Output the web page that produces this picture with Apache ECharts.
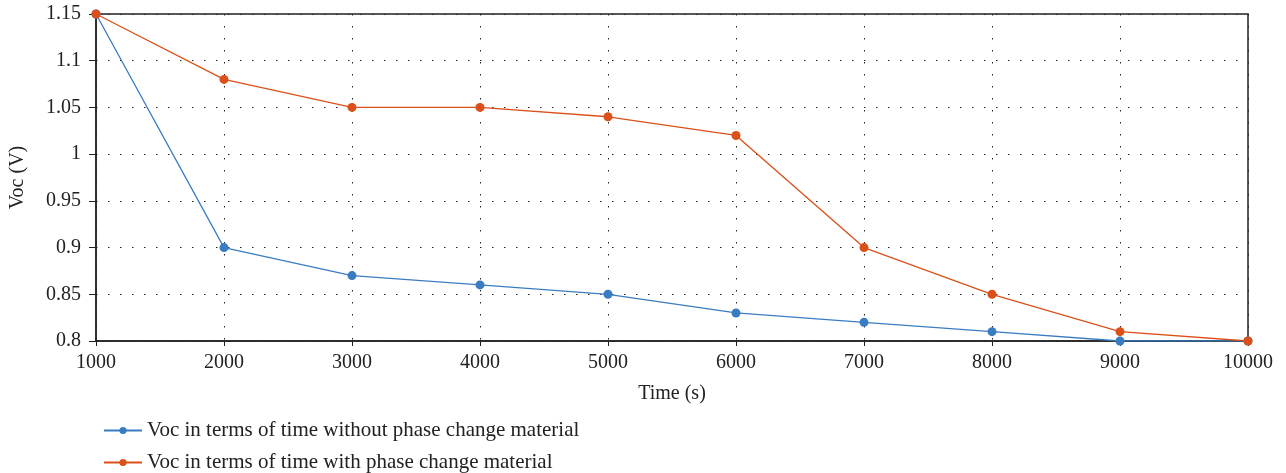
<!DOCTYPE html>
<html><head><meta charset="utf-8">
<script src="https://cdn.jsdelivr.net/npm/echarts@6/dist/echarts.min.js"></script>
<style>html,body{margin:0;padding:0;background:#fff}#c{width:1286px;height:473px}</style>
</head><body><div id="c"></div>
<script>
const times = [1000, 2000, 3000, 4000, 5000, 6000, 7000, 8000, 9000, 10000];
const vocWithout = [1.15, 0.90, 0.87, 0.86, 0.85, 0.83, 0.82, 0.81, 0.80, 0.80];
const vocWith = [1.15, 1.08, 1.05, 1.05, 1.04, 1.02, 0.90, 0.85, 0.81, 0.80];
const nameWithout = 'Voc in terms of time without phase change material';
const nameWith = 'Voc in terms of time with phase change material';
const FONT = '"Liberation Serif", "DejaVu Serif", serif';
const legendText = {fontFamily: FONT, fontSize: 21, color: '#222'};
const chart = echarts.init(document.getElementById('c'));
chart.setOption({
  animation: false,
  textStyle: {fontFamily: FONT},
  grid: {left: 92, right: 38, top: 14, bottom: 132, show: true, borderColor: '#222', borderWidth: 1.5},
  legend: [
    {left: 98, top: 415, itemWidth: 38, itemHeight: 9, itemGap: 5, textStyle: legendText, data: [nameWithout]},
    {left: 98, top: 447, itemWidth: 38, itemHeight: 9, itemGap: 5, textStyle: legendText, data: [nameWith]}
  ],
  xAxis: {
    type: 'value', min: 1000, max: 10000, interval: 1000,
    name: 'Time (s)', nameLocation: 'middle', nameGap: 43,
    nameTextStyle: {fontFamily: FONT, fontSize: 20, color: '#222'},
    axisLine: {onZero: false, lineStyle: {color: '#222', width: 1.5}},
    axisTick: {show: true, length: 5, lineStyle: {color: '#222'}},
    axisLabel: {fontFamily: FONT, fontSize: 20, color: '#222', margin: 12, formatter: v => String(v)},
    splitLine: {show: true, lineStyle: {type: [1.5, 10.5], color: '#222', width: 1}}
  },
  yAxis: {
    type: 'value', min: 0.8, max: 1.15, interval: 0.05,
    name: 'Voc (V)', nameLocation: 'middle', nameGap: 68, nameRotate: 90,
    nameTextStyle: {fontFamily: FONT, fontSize: 20, color: '#222'},
    axisLine: {show: true, onZero: false, lineStyle: {color: '#222', width: 1.5}},
    axisTick: {show: true, length: 7, lineStyle: {color: '#222'}},
    axisLabel: {fontFamily: FONT, fontSize: 20, color: '#222', margin: 15,
      formatter: v => String(parseFloat(v.toFixed(2)))},
    splitLine: {show: true, lineStyle: {type: [1.5, 10.5], color: '#222', width: 1}}
  },
  series: [
    {name: nameWithout, type: 'line', data: times.map((t, i) => [t, vocWithout[i]]),
     symbol: 'circle', symbolSize: 9, color: '#3a7cc2', lineStyle: {width: 1.3}},
    {name: nameWith, type: 'line', data: times.map((t, i) => [t, vocWith[i]]),
     symbol: 'circle', symbolSize: 9, color: '#db5019', lineStyle: {width: 1.3}}
  ]
});
</script></body></html>
